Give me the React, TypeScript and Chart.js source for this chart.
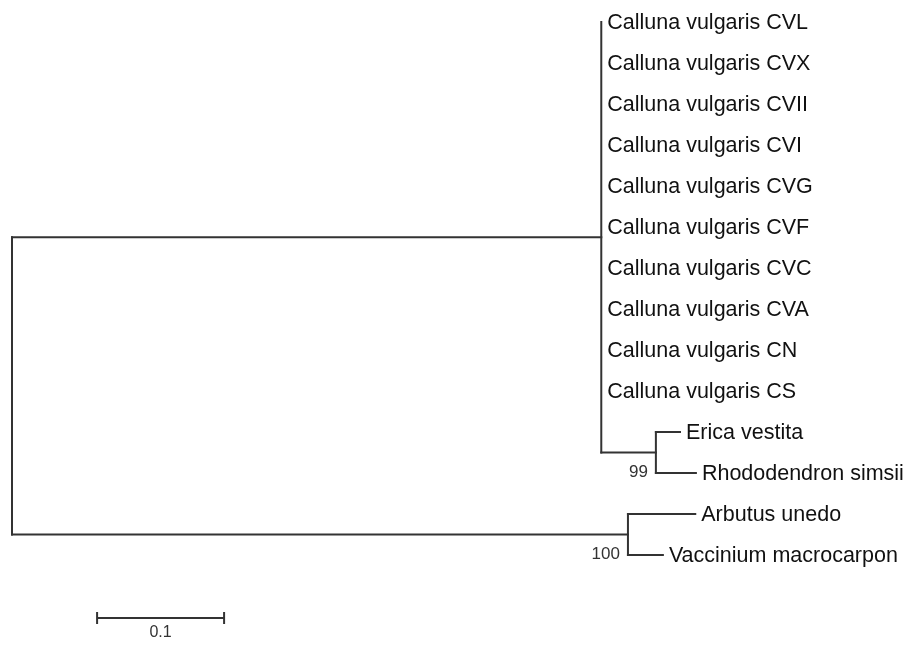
import React, { useEffect, useRef } from 'react';
import { Chart, registerables } from 'chart.js';

Chart.register(...registerables);

// ---- Data ----
const taxa = [
  'Calluna vulgaris CVL',
  'Calluna vulgaris CVX',
  'Calluna vulgaris CVII',
  'Calluna vulgaris CVI',
  'Calluna vulgaris CVG',
  'Calluna vulgaris CVF',
  'Calluna vulgaris CVC',
  'Calluna vulgaris CVA',
  'Calluna vulgaris CN',
  'Calluna vulgaris CS',
  'Erica vestita',
  'Rhododendron simsii',
  'Arbutus unedo',
  'Vaccinium macrocarpon',
];
const taxonParent = ['C', 'C', 'C', 'C', 'C', 'C', 'C', 'C', 'C', 'C', 'E', 'E', 'A', 'A'];
const taxonBranch = [0, 0, 0, 0, 0, 0, 0, 0, 0, 0, 0.019, 0.0315, 0.053, 0.0275];

const nodeIds = ['R', 'C', 'E', 'A'];
const nodeParent = ['', 'R', 'C', 'R'];
const nodeBranch = [0, 0.464, 0.043, 0.485];
const nodeSupport: (number | null)[] = [null, null, 99, 100];

const scaleBarLength = 0.1;
const scaleBarLabel = '0.1';
const scaleBarStart = 0.067;
const scaleBarRow = 14.54;

// ---- Layout computation ----
function computeTree() {
  const nodeX: Record<string, number> = {};
  const getX = (id: string): number => {
    if (nodeX[id] !== undefined) return nodeX[id];
    const i = nodeIds.indexOf(id);
    const p = nodeParent[i];
    const v = (p ? getX(p) : 0) + nodeBranch[i];
    nodeX[id] = v;
    return v;
  };
  nodeIds.forEach(getX);
  const leafX = taxa.map((_, i) => nodeX[taxonParent[i]] + taxonBranch[i]);
  const leafY = taxa.map((_, i) => i);

  const nodeY: Record<string, number> = {};
  const childrenY: Record<string, number[]> = {};
  const getY = (id: string): number => {
    if (nodeY[id] !== undefined) return nodeY[id];
    const ys: number[] = [];
    taxa.forEach((_, i) => {
      if (taxonParent[i] === id) ys.push(leafY[i]);
    });
    nodeIds.forEach((cid, j) => {
      if (nodeParent[j] === id) ys.push(getY(cid));
    });
    childrenY[id] = ys;
    const v = (Math.min(...ys) + Math.max(...ys)) / 2;
    nodeY[id] = v;
    return v;
  };
  nodeIds.forEach(getY);

  const segments: { x: number; y: number }[][] = [];
  nodeIds.forEach((id) => {
    const ys = childrenY[id];
    segments.push([
      { x: nodeX[id], y: Math.min(...ys) },
      { x: nodeX[id], y: Math.max(...ys) },
    ]);
  });
  taxa.forEach((_, i) => {
    if (taxonBranch[i] > 0) {
      segments.push([
        { x: nodeX[taxonParent[i]], y: leafY[i] },
        { x: leafX[i], y: leafY[i] },
      ]);
    }
  });
  nodeIds.forEach((id, j) => {
    if (nodeParent[j] && nodeBranch[j] > 0) {
      segments.push([
        { x: nodeX[nodeParent[j]], y: nodeY[id] },
        { x: nodeX[id], y: nodeY[id] },
      ]);
    }
  });
  return { nodeX, nodeY, childrenY, leafX, leafY, segments };
}

const LINE_COLOR = '#333333';

export default function App() {
  const canvasRef = useRef<HTMLCanvasElement | null>(null);

  useEffect(() => {
    if (!canvasRef.current) return;
    const tree = computeTree();

    const labelPlugin = {
      id: 'treeLabels',
      afterDatasetsDraw(chart: any) {
        const ctx = chart.ctx as CanvasRenderingContext2D;
        const xs = chart.scales.x;
        const ys = chart.scales.y;
        ctx.save();
        // taxon labels
        ctx.fillStyle = '#111111';
        ctx.font = '21.5px "Liberation Sans", Arial, sans-serif';
        ctx.textAlign = 'left';
        ctx.textBaseline = 'middle';
        taxa.forEach((name, i) => {
          ctx.fillText(
            name,
            xs.getPixelForValue(tree.leafX[i]) + 6,
            ys.getPixelForValue(tree.leafY[i]) + 1
          );
        });
        // bootstrap support
        ctx.fillStyle = '#333333';
        ctx.font = '17px "Liberation Sans", Arial, sans-serif';
        ctx.textAlign = 'right';
        nodeIds.forEach((id, j) => {
          const s = nodeSupport[j];
          if (s === null) return;
          const cy = Math.max(...tree.childrenY[id]);
          ctx.fillText(
            String(s),
            xs.getPixelForValue(tree.nodeX[id]) - 8,
            ys.getPixelForValue(cy) - 1
          );
        });
        // scale bar
        const x0 = xs.getPixelForValue(scaleBarStart);
        const x1 = xs.getPixelForValue(scaleBarStart + scaleBarLength);
        const yb = Math.round(ys.getPixelForValue(scaleBarRow));
        ctx.strokeStyle = LINE_COLOR;
        ctx.lineWidth = 2;
        ctx.beginPath();
        ctx.moveTo(x0, yb);
        ctx.lineTo(x1, yb);
        ctx.moveTo(x0, yb - 6);
        ctx.lineTo(x0, yb + 6);
        ctx.moveTo(x1, yb - 6);
        ctx.lineTo(x1, yb + 6);
        ctx.stroke();
        ctx.fillStyle = '#333333';
        ctx.font = '16px "Liberation Sans", Arial, sans-serif';
        ctx.textAlign = 'center';
        ctx.textBaseline = 'middle';
        ctx.fillText(scaleBarLabel, (x0 + x1) / 2, yb + 15);
        ctx.restore();
      },
    };

    const chart = new Chart(canvasRef.current, {
      type: 'scatter',
      data: {
        datasets: tree.segments.map((seg) => ({
          data: seg,
          showLine: true,
          borderColor: LINE_COLOR,
          borderWidth: 2,
          borderCapStyle: 'square',
          pointRadius: 0,
          pointHoverRadius: 0,
          clip: false,
        })),
      },
      options: {
        animation: false,
        responsive: false,
        events: [],
        layout: { padding: { left: 12, right: 11, top: 22, bottom: 9 } },
        scales: {
          x: { type: 'linear', min: 0, max: 0.7, display: false },
          y: { type: 'linear', min: 0, max: 15, reverse: true, display: false },
        },
        plugins: {
          legend: { display: false },
          tooltip: { enabled: false },
        },
      } as any,
      plugins: [labelPlugin],
    });
    return () => chart.destroy();
  }, []);

  return (
    <div style={{ position: 'absolute', left: 0, top: 0, width: 912, height: 646, background: '#ffffff' }}>
      <canvas ref={canvasRef} width={912} height={646} />
    </div>
  );
}
